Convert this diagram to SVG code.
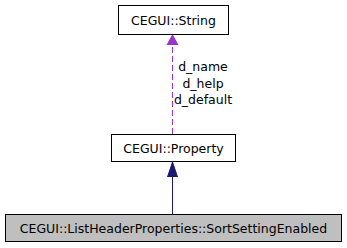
<svg xmlns="http://www.w3.org/2000/svg" width="347" height="248" viewBox="0 0 347 248">
  <style>
    .box { fill: #ffffff; stroke: #000000; stroke-width: 1; }
    .box.focus { fill: #bfbfbf; }
    .lbl { font-family: "DejaVu Sans", sans-serif; font-size: 12.5px; fill: #000000; text-anchor: middle; }
    .edge-use { stroke: #9a32cd; stroke-width: 1; stroke-dasharray: 6 3; fill: none; }
    .edge-inh { stroke: #191970; stroke-width: 1; fill: none; }
  </style>
  <defs>
    <marker id="headUse" markerWidth="10" markerHeight="14" refX="10" refY="7" orient="auto" markerUnits="userSpaceOnUse">
      <path d="M0,1.5 L10,7 L0,12.5 Z" fill="#9a32cd" stroke="#9a32cd"/>
    </marker>
    <marker id="headInh" markerWidth="16" markerHeight="12" refX="15" refY="6" orient="auto" markerUnits="userSpaceOnUse">
      <path d="M0,1 L15,6 L0,11 Z" fill="#191970" stroke="#191970"/>
    </marker>
  </defs>

  <g id="connectors">
    <path class="edge-use" d="M172.5,134 L172.5,35" marker-end="url(#headUse)"/>
    <text class="lbl" x="203" y="71">d_name</text>
    <text class="lbl" x="203" y="87.5">d_help</text>
    <text class="lbl" x="203" y="104">d_default</text>
    <path class="edge-inh" d="M172.5,214 L172.5,162" marker-end="url(#headInh)"/>
  </g>

  <g id="node-string">
    <rect class="box" x="118.5" y="5.5" width="110" height="29"/>
    <text class="lbl" x="173.5" y="24.5">CEGUI::String</text>
  </g>

  <g id="node-property">
    <rect class="box" x="111.5" y="134.5" width="124" height="27"/>
    <text class="lbl" x="173.5" y="152.5">CEGUI::Property</text>
  </g>

  <g id="node-sortsetting">
    <rect class="box focus" x="5.5" y="214.5" width="336" height="27"/>
    <text class="lbl" x="173.5" y="232.5">CEGUI::ListHeaderProperties::SortSettingEnabled</text>
  </g>
</svg>
